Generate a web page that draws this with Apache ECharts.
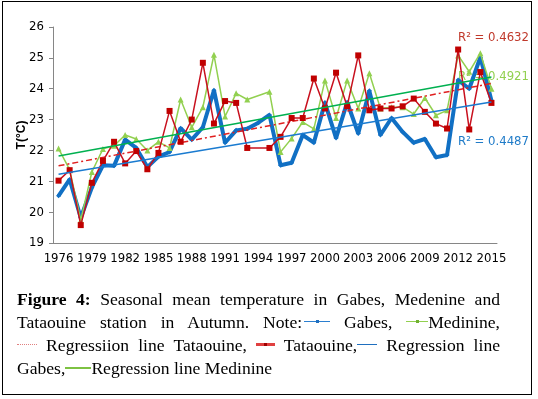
<!DOCTYPE html>
<html>
<head>
<meta charset="utf-8">
<script src="https://cdn.jsdelivr.net/npm/echarts@6/dist/echarts.min.js"></script>
<style>
  html, body { margin: 0; padding: 0; background: #fff; }
  #wrap { position: relative; width: 538px; height: 399px; }
  #chart { position: absolute; left: 0; top: 0; width: 538px; height: 399px; }
  #frame { position: absolute; left: 2px; top: 1px; width: 530px; height: 394px; box-sizing: border-box; border: 1.5px solid #000; pointer-events: none; }
  #caption { position: absolute; left: 17px; top: 288px; width: 483px; font-family: "Liberation Serif", "DejaVu Serif", serif; font-size: 17.6px; line-height: 23px; color: #000; }
  #caption .j { text-align: justify; text-align-last: justify; white-space: nowrap; }
  #caption .l { text-align: left; }
  .sym { display: inline-block; position: relative; height: 10px; vertical-align: 1px; }
  .sym i { position: absolute; left: 0; right: 0; top: 4px; }
  .sym b { position: absolute; left: 50%; top: 3px; width: 3px; height: 3px; margin-left: -1px; }
</style>
</head>
<body>
<div id="wrap">
  <div id="chart"></div>
  <div id="caption">
    <div class="j"><b>Figure 4:</b> Seasonal mean temperature in Gabes, Medenine and</div>
    <div class="j">Tataouine station in Autumn. Note:<span class="sym" style="width:26px;margin-left:2px"><i style="border-top:1px solid #2b7fd0"></i><b style="background:#1f6fbf"></b></span> Gabes, <span class="sym" style="width:22px"><i style="border-top:1px solid #92D050"></i><b style="background:#6fb030"></b></span>Medinine,</div>
    <div class="j"><span class="sym" style="width:20px"><i style="border-top:1px dotted #e08080"></i></span> Regressiion line Tataouine, <span class="sym" style="width:19px"><i style="border-top:3px solid #e04040;top:3px"></i><b style="background:#a00000"></b></span> Tataouine,<span class="sym" style="width:20px"><i style="border-top:1px solid #1f6fbf"></i></span> Regression line</div>
    <div class="l">Gabes,<span class="sym" style="width:26px"><i style="border-top:2px solid #7dc242"></i></span>Regression line Medinine</div>
  </div>
  <div id="frame"></div>
</div>
<script>
var years = ['1976','1977','1978','1979','1980','1981','1982','1983','1984','1985',
  '1986','1987','1988','1989','1990','1991','1992','1993','1994','1995',
  '1996','1997','1998','1999','2000','2001','2002','2003','2004','2005',
  '2006','2007','2008','2009','2010','2011','2012','2013','2014','2015'];

var gabes = [20.53, 21.06, 19.82, 20.8, 21.52, 21.5, 22.35, 22.08, 21.46, 21.8,
  21.95, 22.72, 22.35, 22.75, 23.95, 22.25, 22.65, 22.7, 22.9, 23.15,
  21.52, 21.6, 22.5, 22.25, 23.55, 22.4, 23.56, 22.55, 23.93, 22.5,
  23.05, 22.6, 22.25, 22.37, 21.78, 21.85, 24.28, 24.0, 25.02, 23.62];

var medinine = [22.06, 21.38, 19.74, 21.3, 22.05, 22.15, 22.5, 22.37, 22.0, 22.28,
  22.08, 23.65, 22.75, 23.4, 25.1, 23.1, 23.85, 23.65, null, 23.9,
  21.95, 22.39, 22.92, 22.7, 24.27, 23.05, 24.27, 23.36, 24.5, 23.36,
  23.4, 23.4, 23.18, 23.7, 23.14, 23.3, 25.08, 24.55, 25.15, 24.0];

var tataouine = [21.02, 21.36, 19.58, 20.95, 21.66, 22.28, 21.58, 21.98, 21.39, 21.92,
  23.28, 22.28, 23.0, 24.84, 22.87, 23.6, 23.54, 22.08, null, 22.08,
  22.44, 23.05, 23.05, 24.33, 23.36, 24.52, 23.43, 25.08, 23.3, 23.36,
  23.36, 23.43, 23.68, 23.25, 22.87, 22.71, 25.27, 22.68, 24.54, 23.54];

// trend lines: value at first and last year
var gabesFit = [21.23, 23.57];
var medinineFit = [21.82, 24.38];
var tataouineFit = [21.5, 24.17];

var r2Labels = ['R\u00b2 = 0.4632', 'R\u00b2 = 0.4921', 'R\u00b2 = 0.4487'];

var axisFont = '"Liberation Sans Narrow", "DejaVu Sans Condensed", "Liberation Sans", sans-serif';

function fitData(arr) {
  return [[0, arr[0]], [years.length - 1, arr[1]]];
}

var myChart = echarts.init(document.getElementById('chart'));
var option = {
  animation: false,
  grid: { left: 53, right: 41, top: 27, bottom: 156 },
  xAxis: {
    type: 'category',
    data: years,
    boundaryGap: true,
    axisLine: { lineStyle: { color: '#868686', width: 1 } },
    axisTick: { interval: 1, length: 5, lineStyle: { color: '#868686' } },
    axisLabel: { interval: 2, margin: 9, color: '#000', fontSize: 13, fontFamily: axisFont },
    splitLine: { show: false }
  },
  yAxis: {
    type: 'value',
    min: 19,
    max: 26,
    interval: 1,
    name: 'T(\u00b0C)',
    nameLocation: 'middle',
    nameGap: 25,
    nameMoveOverlap: false,
    nameTextStyle: { color: '#000', fontWeight: 'bold', fontSize: 12, fontFamily: '"Liberation Sans", sans-serif' },
    axisLine: { show: true, lineStyle: { color: '#868686', width: 1 } },
    axisTick: { show: true, length: 4, lineStyle: { color: '#868686' } },
    axisLabel: { margin: 9, color: '#000', fontSize: 13, fontFamily: axisFont },
    splitLine: { show: false }
  },
  series: [
    {
      name: 'Gabes',
      type: 'line',
      data: gabes,
      connectNulls: true,
      symbol: 'diamond',
      symbolSize: 5,
      itemStyle: { color: '#1170C4' },
      lineStyle: { color: '#1170C4', width: 4 },
      z: 2
    },
    {
      name: 'Medinine',
      type: 'line',
      data: medinine,
      connectNulls: true,
      symbol: 'triangle',
      symbolSize: 6,
      itemStyle: { color: '#92D050' },
      lineStyle: { color: '#92D050', width: 1.5 },
      z: 3
    },
    {
      name: 'Regressiion line Tataouine',
      type: 'line',
      data: fitData(tataouineFit),
      symbol: 'none',
      lineStyle: { color: '#E02020', width: 1.5, type: [6, 3, 2, 3] },
      z: 4
    },
    {
      name: 'Tataouine',
      type: 'line',
      data: tataouine,
      connectNulls: true,
      symbol: 'rect',
      symbolSize: 6,
      itemStyle: { color: '#C00000' },
      lineStyle: { color: '#C8101E', width: 1.5 },
      z: 5
    },
    {
      name: 'Regression line Gabes',
      type: 'line',
      data: fitData(gabesFit),
      symbol: 'none',
      lineStyle: { color: '#1A7BD0', width: 1.5 },
      z: 6
    },
    {
      name: 'Regression line Medinine',
      type: 'line',
      data: fitData(medinineFit),
      symbol: 'none',
      lineStyle: { color: '#00B050', width: 1.5 },
      z: 7
    }
  ],
  graphic: [
    { type: 'text', left: 458, top: 31, style: { text: r2Labels[0], fill: '#C0392B', font: '13px ' + axisFont } },
    { type: 'text', left: 458, top: 70, style: { text: r2Labels[1], fill: '#92D050', font: '13px ' + axisFont } },
    { type: 'text', left: 458, top: 135, style: { text: r2Labels[2], fill: '#1F7BC8', font: '13px ' + axisFont } }
  ]
};
myChart.setOption(option, true);
</script>
</body>
</html>
